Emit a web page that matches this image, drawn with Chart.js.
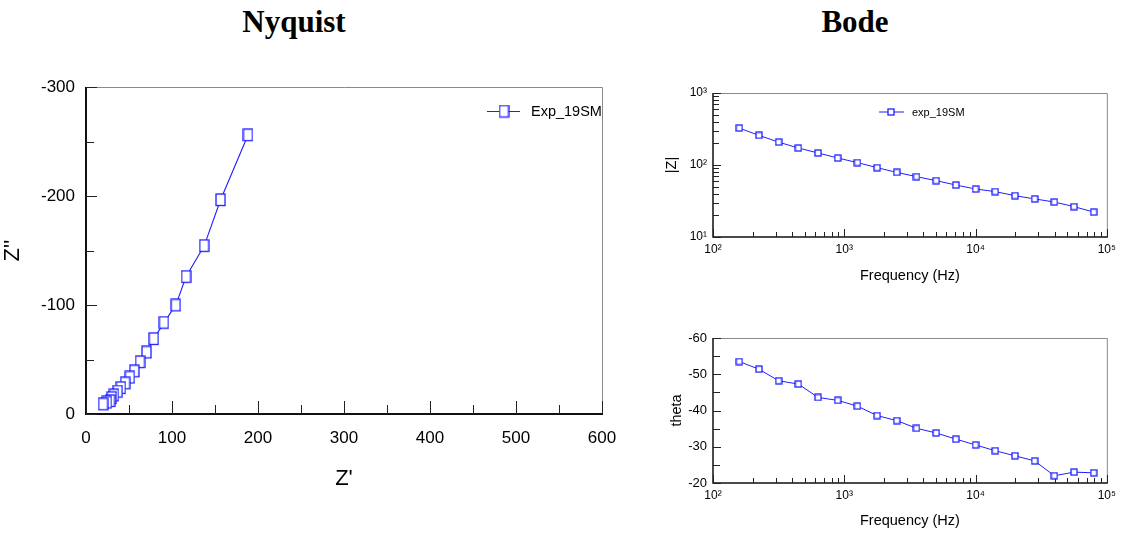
<!DOCTYPE html>
<html>
<head>
<meta charset="utf-8">
<script src="https://cdn.jsdelivr.net/npm/chart.js@4.4.0/dist/chart.umd.min.js"></script>
<style>
  body { margin: 0; background: #fff; width: 1121px; height: 534px; position: relative; overflow: hidden; }
  .box { position: absolute; }
  .head { position: absolute; font: bold 31px "Liberation Serif", "Times New Roman", serif; line-height: 1; transform: translateX(-50%); white-space: nowrap; color: #000; }
</style>
</head>
<body>
<div class="head" style="left:294px;top:6px">Nyquist</div>
<div class="head" style="left:855px;top:6px">Bode</div>
<div class="box" style="left:0;top:60px"><canvas id="nyq" width="640" height="474"></canvas></div>
<div class="box" style="left:640px;top:60px"><canvas id="mag" width="481" height="240"></canvas></div>
<div class="box" style="left:640px;top:300px"><canvas id="phase" width="481" height="234"></canvas></div>
<script>
// data (low frequency first)
var freq = [158.5, 223.9, 316.2, 446.7, 631, 891, 1259, 1778, 2512, 3548, 5012, 7079, 10000, 14125, 19953, 28184, 39811, 56234, 79433];
var zReal = [188.3, 156.4, 137.4, 116.3, 104.3, 90.6, 78.8, 70.3, 62.8, 56.2, 51.0, 45.6, 40.6, 36.8, 32.5, 30.0, 28.0, 24.4, 19.9];
var zImag = [-255.8, -196.3, -154.3, -125.9, -99.7, -83.8, -68.9, -56.5, -47.6, -39.2, -33.5, -28.2, -24.0, -20.6, -17.1, -14.8, -12.0, -10.6, -8.9];
var zMod = [326, 258, 208, 172, 147, 125, 108, 91.8, 79, 68.9, 60.6, 52.7, 46.4, 42.7, 37.5, 33.8, 30.6, 26.4, 22.2];
var theta = [-53.5, -51.4, -48.2, -47.3, -43.6, -42.8, -41.2, -38.6, -37.2, -35.1, -33.8, -32.1, -30.5, -28.9, -27.5, -26.1, -22.0, -23.0, -22.8];

// tick labels
var nyqXTicks = [0, 100, 200, 300, 400, 500, 600];
var nyqYTicks = [-300, -200, -100, 0];
var freqTicks = [100, 1000, 10000, 100000];
var freqTickLabels = ['10\u00B2', '10\u00B3', '10\u2074', '10\u2075'];
var magTicks = [10, 100, 1000];
var magTickLabels = ['10\u00B9', '10\u00B2', '10\u00B3'];
var thetaTicks = [-60, -50, -40, -30, -20];

var blue = 'rgb(30,30,255)';
var font = '"Liberation Sans", Arial, sans-serif';
Chart.defaults.font.family = font;
Chart.defaults.color = '#000';

function makeBox(w, h) {
  var cv = document.createElement('canvas');
  cv.width = Math.ceil(w + 2);
  cv.height = Math.ceil(h + 2);
  var c = cv.getContext('2d');
  c.fillStyle = '#fff';
  c.fillRect(1, 1, w, h);
  c.strokeStyle = blue;
  c.lineWidth = 1.3;
  c.strokeRect(1, 1, w, h);
  return cv;
}

// inward tick marks: [value, length]
function linMarks(min, max, step, major, lenMaj, lenMin) {
  var out = [];
  for (var v = min; v <= max + 1e-9; v += step) {
    var isMaj = Math.abs(Math.round(v / major) * major - v) < 1e-6;
    out.push([v, isMaj ? lenMaj : lenMin]);
  }
  return out;
}
function logMarks(e0, e1, lenMaj, lenMin) {
  var out = [];
  for (var e = e0; e <= e1; e++) {
    var p = Math.pow(10, e);
    out.push([p, lenMaj]);
    if (e < e1) for (var d = 2; d <= 9; d++) out.push([d * p, lenMin]);
  }
  return out;
}

var frame = {
  id: 'frame',
  beforeDatasetsDraw: function (chart, args, o) {
    var a = chart.chartArea, c = chart.ctx;
    var sx = chart.scales.x, sy = chart.scales.y;
    c.save();
    c.strokeStyle = '#8a8a8a';
    c.lineWidth = 1;
    c.beginPath();
    c.moveTo(a.left, a.top + 0.5);
    c.lineTo(a.right + 0.5, a.top + 0.5);
    c.lineTo(a.right + 0.5, a.bottom);
    c.stroke();
    c.strokeStyle = '#111';
    c.lineWidth = o.w;
    c.beginPath();
    c.moveTo(a.left, a.top);
    c.lineTo(a.left, a.bottom);
    c.lineTo(a.right + 1, a.bottom);
    c.stroke();
    c.lineWidth = 1;
    c.strokeStyle = '#222';
    o.x.forEach(function (t) {
      var p = Math.round(sx.getPixelForValue(t[0])) + 0.5;
      c.beginPath(); c.moveTo(p, a.bottom); c.lineTo(p, a.bottom - t[1]); c.stroke();
    });
    o.y.forEach(function (t) {
      var p = Math.round(sy.getPixelForValue(t[0])) + 0.5;
      c.beginPath(); c.moveTo(a.left, p); c.lineTo(a.left + t[1], p); c.stroke();
    });
    c.restore();
  }
};

var legendBox = {
  id: 'legendBox',
  afterDraw: function (chart, args, o) {
    if (!o.show) return;
    var ds = chart.data.datasets[0], c = chart.ctx;
    var img = ds.pointStyle;
    c.save();
    c.strokeStyle = ds.borderColor;
    c.lineWidth = 1;
    c.beginPath(); c.moveTo(o.x1, o.y); c.lineTo(o.x2, o.y); c.stroke();
    c.drawImage(img, o.cx - img.width / 2, o.y - img.height / 2);
    c.fillStyle = '#000';
    c.font = o.size + 'px ' + font;
    c.textBaseline = 'middle';
    c.fillText(ds.label, o.tx, o.y + 0.5);
    c.restore();
  }
};

function setTicks(list) {
  return function (s) { s.ticks = list.map(function (v) { return { value: v }; }); };
}
function labelFrom(list, labels) {
  return function (v) { var i = list.indexOf(v); return i < 0 ? '' : labels[i]; };
}

// Nyquist
new Chart(document.getElementById('nyq'), {
  type: 'scatter',
  data: {
    datasets: [{
      label: 'Exp_19SM',
      data: zReal.map(function (x, i) { return { x: x, y: zImag[i] }; }),
      showLine: true,
      borderColor: blue,
      borderWidth: 1.1,
      pointStyle: makeBox(9, 11.5),
      pointRadius: 5
    }]
  },
  options: {
    responsive: false,
    animation: false,
    layout: { padding: { left: 0, top: 27, right: 38, bottom: 0 } },
    plugins: {
      legend: { display: false },
      tooltip: { enabled: false },
      frame: { w: 2, x: linMarks(0, 600, 50, 100, 13, 9), y: linMarks(-300, 0, 50, 100, 11, 8) },
      legendBox: { show: true, x1: 487, x2: 520, cx: 504, y: 51.5, tx: 531, size: 14.5 }
    },
    scales: {
      x: {
        type: 'linear', min: 0, max: 600,
        afterBuildTicks: setTicks(nyqXTicks),
        afterFit: function (s) { s.height = 120; },
        grid: { display: false, drawTicks: false },
        border: { display: false },
        ticks: { font: { size: 17 }, padding: 14, maxRotation: 0, autoSkip: false },
        title: { display: true, text: "Z'", font: { size: 22 }, padding: { top: 0, bottom: 42 } }
      },
      y: {
        type: 'linear', min: -300, max: 0, reverse: true,
        afterBuildTicks: setTicks(nyqYTicks),
        afterFit: function (s) { s.width = 86; },
        grid: { display: false, drawTicks: false },
        border: { display: false },
        ticks: { font: { size: 17 }, padding: 11, autoSkip: false },
        title: { display: true, text: "Z''", font: { size: 22 }, padding: { top: 0, bottom: 0 } }
      }
    }
  },
  plugins: [frame, legendBox]
});

// Bode |Z|
new Chart(document.getElementById('mag'), {
  type: 'scatter',
  data: {
    datasets: [{
      label: 'exp_19SM',
      data: freq.map(function (f, i) { return { x: f, y: zMod[i] }; }),
      showLine: true,
      borderColor: blue,
      borderWidth: 1,
      pointStyle: makeBox(6, 6),
      pointRadius: 4
    }]
  },
  options: {
    responsive: false,
    animation: false,
    layout: { padding: { left: 0, top: 33, right: 12, bottom: 0 } },
    plugins: {
      legend: { display: false },
      tooltip: { enabled: false },
      frame: { w: 1.5, x: logMarks(2, 5, 8, 5), y: logMarks(1, 3, 8, 6) },
      legendBox: { show: true, x1: 239, x2: 264, cx: 251, y: 52, tx: 272, size: 11 }
    },
    scales: {
      x: {
        type: 'logarithmic', min: 100, max: 100000,
        afterBuildTicks: setTicks(freqTicks),
        afterFit: function (s) { s.height = 63; },
        grid: { display: false, drawTicks: false },
        border: { display: false },
        ticks: { font: { size: 12 }, padding: 5, maxRotation: 0, autoSkip: false, callback: labelFrom(freqTicks, freqTickLabels) },
        title: { display: true, text: 'Frequency (Hz)', font: { size: 14.5 }, padding: { top: 0, bottom: 15 } }
      },
      y: {
        type: 'logarithmic', min: 10, max: 1000,
        afterBuildTicks: setTicks(magTicks),
        afterFit: function (s) { s.width = 73; },
        grid: { display: false, drawTicks: false },
        border: { display: false },
        ticks: { font: { size: 12 }, padding: 6, autoSkip: false, callback: labelFrom(magTicks, magTickLabels) },
        title: { display: true, text: '|Z|', font: { size: 14.5 }, padding: { top: 23, bottom: 0 } }
      }
    }
  },
  plugins: [frame, legendBox]
});

// Bode phase
new Chart(document.getElementById('phase'), {
  type: 'scatter',
  data: {
    datasets: [{
      label: 'exp_19SM',
      data: freq.map(function (f, i) { return { x: f, y: theta[i] }; }),
      showLine: true,
      borderColor: blue,
      borderWidth: 1,
      pointStyle: makeBox(6, 6),
      pointRadius: 4
    }]
  },
  options: {
    responsive: false,
    animation: false,
    layout: { padding: { left: 0, top: 38, right: 12, bottom: 0 } },
    plugins: {
      legend: { display: false },
      tooltip: { enabled: false },
      frame: { w: 1.5, x: logMarks(2, 5, 8, 5), y: linMarks(-60, -20, 5, 10, 8, 7) },
      legendBox: { show: false }
    },
    scales: {
      x: {
        type: 'logarithmic', min: 100, max: 100000,
        afterBuildTicks: setTicks(freqTicks),
        afterFit: function (s) { s.height = 51; },
        grid: { display: false, drawTicks: false },
        border: { display: false },
        ticks: { font: { size: 12 }, padding: 5, maxRotation: 0, autoSkip: false, callback: labelFrom(freqTicks, freqTickLabels) },
        title: { display: true, text: 'Frequency (Hz)', font: { size: 14.5 }, padding: { top: 0, bottom: 4 } }
      },
      y: {
        type: 'linear', min: -60, max: -20, reverse: true,
        afterBuildTicks: setTicks(thetaTicks),
        afterFit: function (s) { s.width = 73; },
        grid: { display: false, drawTicks: false },
        border: { display: false },
        ticks: { font: { size: 13 }, padding: 6, autoSkip: false },
        title: { display: true, text: 'theta', font: { size: 14.5 }, padding: { top: 28, bottom: 0 } }
      }
    }
  },
  plugins: [frame, legendBox]
});
</script>
</body>
</html>
